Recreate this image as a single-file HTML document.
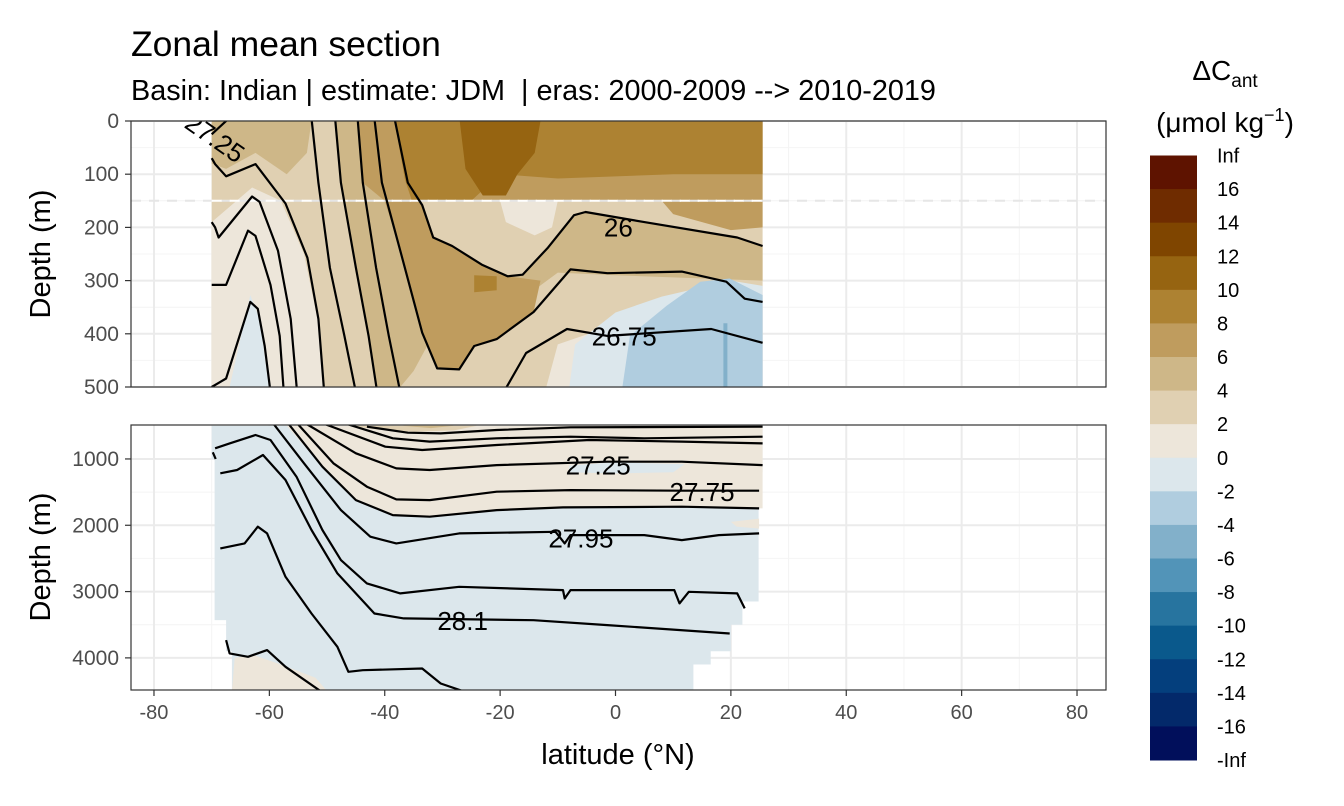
<!DOCTYPE html>
<html><head><meta charset="utf-8">
<style>
body{margin:0;background:#fff;}
svg{display:block;font-family:"Liberation Sans",sans-serif;}
</style></head>
<body>
<svg id="chart" width="1344" height="806" viewBox="0 0 1344 806" xmlns="http://www.w3.org/2000/svg">
<defs>
<clipPath id="clipTop"><rect x="131" y="121" width="975" height="266"/></clipPath>
<clipPath id="clipBot"><rect x="131" y="425" width="975" height="265"/></clipPath>
</defs>
<text x="131" y="56" font-size="35.5" fill="#000">Zonal mean section</text>
<text x="131" y="100" font-size="28.8" fill="#000" xml:space="preserve" style="white-space:pre">Basin: Indian | estimate: JDM  | eras: 2000-2009 --&gt; 2010-2019</text>
<g id="topPanel"></g>
<g id="botPanel"></g>
<g id="axes"></g>
<text x="50" y="254" font-size="29" text-anchor="middle" transform="rotate(-90 50 254)">Depth (m)</text>
<text x="50" y="557" font-size="29" text-anchor="middle" transform="rotate(-90 50 557)">Depth (m)</text>
<text x="618" y="764" font-size="29" text-anchor="middle">latitude (°N)</text>
<g id="legend">
<text x="1225" y="80" font-size="28" text-anchor="middle">ΔC<tspan font-size="19" dy="7">ant</tspan></text>
<text x="1225" y="132" font-size="28" text-anchor="middle">(μmol kg<tspan font-size="18" dy="-11">−1</tspan><tspan dy="11">)</tspan></text>
</g>
</svg>
<script>
const latTicks=[-80,-60,-40,-20,0,20,40,60,80];
const latMinor=[-70,-50,-30,-10,10,30,50,70];
const depthTicksTop=[0,100,200,300,400,500];
const depthMinorTop=[50,150,250,350,450];
const depthTicksBot=[1000,2000,3000,4000];
const depthMinorBot=[1500,2500,3500];
const legendLabels=["Inf","16","14","12","10","8","6","4","2","0","-2","-4","-6","-8","-10","-12","-14","-16","-Inf"];
const legendColors=["#5e1300","#6f2c00","#7f4500","#966411","#ad8232","#bf9c5e","#ceb788","#e0d0b2","#ede6da","#dce7ec","#b0cddf","#82b0ca","#5294b8","#27749f","#0a598c","#043f7d","#03296a","#010f5b"];
const C={b8:"#ad8232",b10:"#966411",b6:"#bf9c5e",b4:"#ceb788",b2:"#e0d0b2",b0:"#ede6da",n0:"#dce7ec",n2:"#b0cddf",n4:"#82b0ca"};

// filled regions, [lat, depth]
const topFills=[
 ["base",C.b2,[[-70,0],[25.5,0],[25.5,500],[-70,500]]],
 ["top-left",C.b4,[[-70,0],[-52.7,0],[-53.5,60],[-57,100],[-62.4,60],[-67.5,90],[-70,80]]],
 ["left-light",C.b0,[[-70,190],[-63,125],[-58,150],[-54,250],[-51.5,380],[-50.5,500],[-70,500]]],
 ["left-blue",C.n0,[[-66.9,500],[-63.3,327],[-61.7,372],[-60.1,500]]],
 ["mid-band",C.b4,[[-48.6,0],[-38.3,0],[-36,116],[-33.5,158],[-31.6,219],[-28.3,235],[-23.2,270],[-18.7,292],[-16.1,289],[-11.7,238],[-7.2,177],[-5.2,171],[5,190],[21.1,219],[25.5,235],[25.5,300],[0,290],[-10,285],[-15,325],[-20,350],[-27,385],[-32,410],[-35,470],[-37.3,500],[-41.3,500],[-42.8,404],[-45,276],[-47.6,116]]],
 ["deep-band",C.b6,[[-44.7,0],[-38.3,0],[-36,116],[-33,170],[-31.6,219],[-28.3,235],[-23.2,270],[-18.7,292],[-13,300],[-14.2,359],[-20.6,410],[-24.5,423],[-27.1,467],[-30.9,465],[-33.5,398],[-37.3,244],[-40,150],[-43.8,116]]],
 ["deep-patch",C.b8,[[-24.5,290],[-20.6,292],[-20.6,318],[-24.5,322]]],
 ["surface-block",C.b6,[[-38.3,0],[25.5,0],[25.5,150],[-35,150],[-36.5,100]]],
 ["surface-core",C.b8,[[-38.3,0],[25.5,0],[25.5,100],[10,100],[-10,108],[-20,100],[-25,150],[-35.3,150],[-36.5,110]]],
 ["surface-max",C.b10,[[-27,0],[-13,0],[-14,60],[-17,100],[-19,140],[-23,140],[-26,90]]],
 ["sub-light",C.b0,[[-20,150],[-10,150],[-11,200],[-14,215],[-19,190]]],
 ["sub-patch",C.b6,[[8,150],[25.5,150],[25.5,200],[20,205],[10,175]]],
 ["lower-right",C.b0,[[-12,500],[-10,420],[-2,390],[10,360],[25.5,340],[25.5,500]]],
 ["blue-light",C.n0,[[-8,500],[-7,420],[0,360],[8,330],[20,300],[25.5,310],[25.5,500]]],
 ["blue",C.n2,[[1.2,500],[2.5,404],[8.9,347],[14.7,302],[19.8,296],[25.5,327],[25.5,500]]],
 ["blue-strip",C.n4,[[18.7,380],[19.4,380],[19.4,500],[18.7,500]]]
];
const botFills=[
 ["base",C.n0,[[-70,500],[25.5,500],[25.5,1200],[24.8,1200],[24.8,3150],[22,3150],[22,3500],[20,3500],[20,3900],[16.5,3900],[16.5,4100],[13.5,4100],[13.5,4500],[-66.5,4500],[-66.5,3900],[-67.5,3900],[-67.5,3430],[-69.5,3430],[-69.5,1000],[-70,1000]]],
 ["upper-tan",C.b0,[[-57,500],[-50.8,1117],[-45,1620],[-38.6,1846],[-32.2,1871],[-20.6,1771],[-9.1,1730],[11.5,1720],[25.5,1745],[25.5,500]]],
 ["tan-core",C.b2,[[-46,500],[-24,500],[-28,570],[-35,590],[-41,560]]],
 ["tan-max",C.b4,[[-37,500],[-28,500],[-32,535]]],
 ["blue-gap",C.n0,[[-8,1100],[0,1050],[12,1080],[10,1200],[0,1220],[-8,1200]]],
 ["right-tan",C.b0,[[20,1950],[24.9,1900],[24.9,2050],[21,2020]]],
 ["bottom-tan",C.b0,[[-66.5,4500],[-66,4000],[-63,3950],[-58,4100],[-52,4300],[-50,4500]]]
];
// contour lines [lat, depth]
const topLines=[
 [[-70,70],[-69.4,81],[-67.5,104],[-62.4,81],[-57.2,155],[-53.4,257],[-51.5,372],[-50.5,510]],
 [[-70,190],[-69.4,200],[-68.8,219],[-63,142],[-61.7,152],[-58.5,244],[-56.3,372],[-55.2,510]],
 [[-70,308],[-67.5,308],[-63.7,206],[-62.4,216],[-59.8,308],[-58.2,404],[-57.5,510]],
 [[-70,500],[-67.5,484],[-63.3,340],[-62,353],[-60.8,423],[-59.8,510]],
 [[-52.7,-5],[-51.5,116],[-49.5,276],[-47,404],[-45,510]],
 [[-48.6,-5],[-47.6,116],[-45,276],[-42.8,404],[-41.3,510]],
 [[-44.7,-5],[-43.8,116],[-41.5,276],[-39.3,404],[-37.3,510]],
 [[-38.3,-5],[-36,116],[-33.5,158],[-31.6,219],[-28.3,235],[-23.2,270],[-18.7,292],[-16.1,289],[-11.7,238],[-7.2,177],[-5.2,171],[5,190],[21.1,219],[25.5,235]],
 [[-41.8,-5],[-40.5,116],[-37.3,244],[-33.5,398],[-30.9,465],[-27.1,467],[-24.5,423],[-20.6,410],[-14.2,359],[-7.8,279],[-1.4,286],[11.5,283],[19.2,302],[22.4,334],[25.5,340]],
 [[-19.4,510],[-15.5,436],[-8.4,391],[-1.4,404],[16.6,391],[25.5,417]],
 [[-70,25],[-67,-5]]
];
const botLines=[
 [[-43.1,513],[-36,604],[-30.3,614],[-20.6,563],[-7.8,523],[25.5,513]],
 [[-46.3,480],[-38.6,689],[-32.2,739],[-20.6,689],[-7.8,664],[5,689],[25.5,664]],
 [[-50.2,480],[-39.9,815],[-33.5,865],[-20.6,790],[-4.6,714],[11.5,739],[25.5,765]],
 [[-53.4,480],[-45,915],[-38,1142],[-32.2,1167],[-20.6,1092],[-1.4,1041],[11.5,1041],[25.5,1092]],
 [[-55,480],[-48.9,1066],[-43.1,1419],[-38,1610],[-32.2,1620],[-20.6,1494],[-7.8,1469],[11.5,1479],[24.9,1479]],
 [[-56.6,480],[-50.8,1117],[-45,1620],[-38.6,1846],[-32.2,1871],[-20.6,1771],[-9.1,1730],[11.5,1720],[24.9,1745]],
 [[-59.2,480],[-54,1066],[-47.6,1771],[-42.5,2173],[-38,2274],[-27.1,2123],[-10.4,2098],[-8.8,2274],[-7.8,2148],[5,2148],[11.5,2223],[17.9,2148],[24.9,2123]],
 [[-69.4,840],[-66.9,765],[-62.4,639],[-59.8,714],[-55.3,1268],[-50.8,2072],[-47.6,2525],[-43.1,2877],[-37.3,3028],[-27.1,2928],[-9.1,2978],[-8.8,3104],[-7.8,2978],[10.2,2978],[11.1,3179],[12.7,3003],[21.1,3028],[22.4,3254]],
 [[-68.5,1217],[-65.6,1167],[-61.1,941],[-57.2,1318],[-52.7,2072],[-48.2,2726],[-41.8,3330],[-36.7,3405],[-14.2,3431],[-1.4,3506],[19.8,3632]],
 [[-68.5,2349],[-64.3,2274],[-62,2022],[-60.4,2123],[-57.2,2777],[-52.7,3330],[-48.2,3833],[-46.3,4210],[-43.8,4185],[-33.5,4160],[-30.3,4386],[-25.8,4520]],
 [[-67.5,3732],[-66.9,3933],[-63.7,3984],[-60.4,3883],[-57.2,4135],[-50.8,4520]],
 [[-69.8,900],[-69.3,1000]]
];
const topLabels=[["26",0.5,200],["26.75",1.5,405]];
const botLabels=[["27.25",-3,1100],["27.75",15,1500],["27.95",-6,2200],["28.1",-26.5,3440]];

const NS="http://www.w3.org/2000/svg";
const svg=document.getElementById("chart");
const X=lat=>615.5+lat*5.769;
const YT=d=>121+d*0.532;
const YB=d=>425.8+(d-500)*0.06631;
function mk(tag,attrs,parent){const e=document.createElementNS(NS,tag);for(const k in attrs)e.setAttribute(k,attrs[k]);parent.appendChild(e);return e;}

function panel(gid,top,bottom,Y,ticks,minor,fills,lines,labels,clip,name){
 const g=document.getElementById(gid);
 mk("rect",{x:131,y:top,width:975,height:bottom-top,fill:"#fff"},g);
 latMinor.forEach(v=>{const l=mk("line",{x1:X(v),x2:X(v),y1:top,y2:bottom,stroke:"#f4f4f4","stroke-width":1},g);
  
  });
 minor.forEach(v=>{const l=mk("line",{x1:131,x2:1106,y1:Y(v),y2:Y(v),stroke:"#f4f4f4","stroke-width":1},g);
  
  });
 latTicks.forEach(v=>{const l=mk("line",{x1:X(v),x2:X(v),y1:top,y2:bottom,stroke:"#ebebeb","stroke-width":2},g);
  
  });
 ticks.forEach(v=>{const l=mk("line",{x1:131,x2:1106,y1:Y(v),y2:Y(v),stroke:"#ebebeb","stroke-width":2},g);
  
  });
 const cg=mk("g",{"clip-path":"url(#"+clip+")"},g);
 fills.forEach(f=>{const p=mk("polygon",{points:f[2].map(q=>X(q[0]).toFixed(1)+","+Y(q[1]).toFixed(1)).join(" "),fill:f[1]},cg);
  
  });
 if(gid==="topPanel"){
  const d1=mk("line",{x1:131,x2:1106,y1:YT(150),y2:YT(150),stroke:"#e6e6e6","stroke-width":2,"stroke-dasharray":"10 8"},cg);
  
  
  const d2=mk("line",{x1:X(-70),x2:X(25.5),y1:YT(150),y2:YT(150),stroke:"#fff","stroke-width":2,"stroke-dasharray":"10 8"},cg);
  
  
 }
 lines.forEach((ln,i)=>{const p=mk("polyline",{points:ln.map(q=>X(q[0]).toFixed(1)+","+Y(q[1]).toFixed(1)).join(" "),fill:"none",stroke:"#000","stroke-width":2.2,"stroke-linejoin":"round"},cg);
  
  });
 labels.forEach(lb=>{const t=mk("text",{x:X(lb[1]),y:Y(lb[2])+9,"font-size":26,"text-anchor":"middle",fill:"#000"},cg);t.textContent=lb[0];
  
  });
 if(gid==="topPanel"){const t=mk("text",{x:215,y:147,"font-size":26,"text-anchor":"middle",transform:"rotate(35 215 138)"},cg);t.textContent="27.25";
  
  }
 const b=mk("rect",{x:131,y:top,width:975,height:bottom-top,fill:"none",stroke:"#333","stroke-width":1.2},g);
 
 
 ticks.forEach(v=>{mk("line",{x1:125,x2:131,y1:Y(v),y2:Y(v),stroke:"#333","stroke-width":1.2},g);
  const t=mk("text",{x:119,y:Y(v)+7,"font-size":21,"text-anchor":"end",fill:"#4d4d4d"},g);t.textContent=v;
  
  });
}
panel("topPanel",121,387,YT,depthTicksTop,depthMinorTop,topFills,topLines,topLabels,"clipTop","upper");
panel("botPanel",425,690,YB,depthTicksBot,depthMinorBot,botFills,botLines,botLabels,"clipBot","lower");

const ax=document.getElementById("axes");
latTicks.forEach(v=>{mk("line",{x1:X(v),x2:X(v),y1:690,y2:696,stroke:"#333","stroke-width":1.2},ax);
 const t=mk("text",{x:X(v),y:719,"font-size":20,"text-anchor":"middle",fill:"#4d4d4d"},ax);t.textContent=v;
 
 });

const lg=document.getElementById("legend");
const binH=(760-155.5)/legendColors.length;
legendColors.forEach((c,i)=>{const r=mk("rect",{x:1150,y:155.5+i*binH,width:47,height:binH+0.5,fill:c},lg);
 
 });
legendLabels.forEach((s,i)=>{const t=mk("text",{x:1217,y:155.5+i*binH+7,"font-size":20,fill:"#000"},lg);t.textContent=s;
 
 });
</script>
</body></html>
